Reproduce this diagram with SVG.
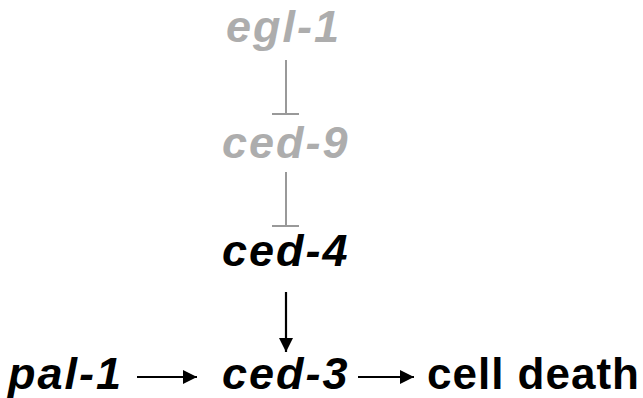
<svg xmlns="http://www.w3.org/2000/svg" width="643" height="398" viewBox="0 0 643 398">
<style>
.t{font-family:"Liberation Sans",Arial,Helvetica,sans-serif;font-weight:bold;font-size:44px;letter-spacing:1px}
.i{font-style:italic;font-size:45px;letter-spacing:2px}
.g{fill:#adadad}
.k{fill:#000}
.inh{stroke:#999;stroke-width:2;fill:none}
.act{stroke:#000;stroke-width:2.2;fill:none}
</style>
<defs>
<marker id="ah" markerUnits="userSpaceOnUse" viewBox="0 0 14 14" refX="14" refY="7" markerWidth="14" markerHeight="14" orient="auto">
<path d="M0,0 L14,7 L0,14 Z" fill="#000"/>
</marker>
</defs>
<rect width="643" height="398" fill="#fff"/>
<g id="egl-1"><text class="t i g" x="226" y="42">egl-1</text></g>
<g id="ced-9"><text class="t i g" x="222" y="158">ced-9</text></g>
<g id="ced-4"><text class="t i k" x="222" y="266">ced-4</text></g>
<g id="pal-1"><text class="t i k" x="8" y="389">pal-1</text></g>
<g id="ced-3"><text class="t i k" x="222" y="389">ced-3</text></g>
<g id="cell-death"><text class="t k" x="427" y="389">cell death</text></g>
<g id="connectors">
<path class="inh" d="M286,60 V114 M272,114 H299"/>
<path class="inh" d="M286,172 V226 M272,226 H299"/>
<path class="act" d="M286,292 V352" marker-end="url(#ah)"/>
<path class="act" d="M137,377 H197" marker-end="url(#ah)"/>
<path class="act" d="M358,377 H414" marker-end="url(#ah)"/>
</g>
</svg>
